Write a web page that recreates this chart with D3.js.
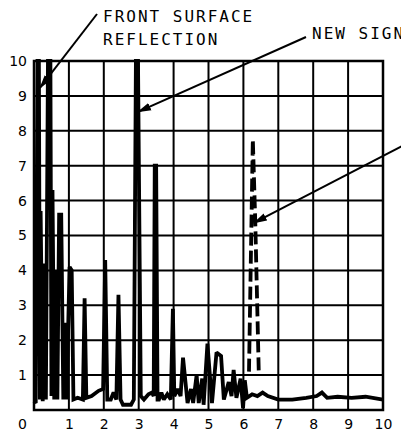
<!DOCTYPE html>
<html>
<head>
<meta charset="utf-8">
<script src="https://cdn.jsdelivr.net/npm/d3@7"></script>
<style>
  body { margin: 0; background: #fff; }
  svg { display: block; }
</style>
</head>
<body>
<svg width="401" height="436"></svg>
<script>
const xTicks = [0, 1, 2, 3, 4, 5, 6, 7, 8, 9, 10];
const yTicks = [1, 2, 3, 4, 5, 6, 7, 8, 9, 10];

// measured trace (solid) - distance vs amplitude
const traceX = [0.00, 0.05, 0.10, 0.14, 0.17, 0.19, 0.25, 0.30, 0.34, 0.40, 0.47, 0.50, 0.53, 0.58, 0.63, 0.67,
  0.72, 0.78, 0.84, 0.88, 0.93, 1.02, 1.08, 1.13, 1.25, 1.40, 1.45, 1.50, 1.65, 1.85, 1.98, 2.04, 2.10,
  2.20, 2.28, 2.36, 2.42, 2.48, 2.55, 2.78, 2.86, 2.92, 2.98, 3.06, 3.15, 3.28, 3.38, 3.43, 3.46, 3.50, 3.54,
  3.58, 3.65, 3.72, 3.82, 3.92, 3.98, 4.02, 4.12, 4.20, 4.27, 4.40, 4.50, 4.56, 4.66, 4.72, 4.82, 4.86,
  4.97, 5.10, 5.23, 5.36, 5.44, 5.58, 5.66, 5.72, 5.80, 5.92, 5.99, 6.04, 6.10, 6.25, 6.40, 6.55, 6.70,
  7.00, 7.40, 7.80, 8.10, 8.25, 8.40, 8.70, 9.10, 9.50, 10.0];
const traceY = [0.25, 0.20, 10.0, 10.0, 0.30, 5.70, 0.25, 4.20, 0.30, 10.0, 10.0, 0.40, 6.30, 0.30, 4.00, 0.30,
  5.60, 5.60, 0.30, 2.50, 0.30, 4.10, 4.00, 0.30, 0.35, 0.30, 3.20, 0.35, 0.40, 0.55, 0.60, 4.30, 0.30,
  0.30, 0.50, 0.30, 3.30, 0.30, 0.15, 0.15, 0.30, 10.0, 10.0, 0.40, 0.30, 0.45, 0.50, 0.40, 7.00, 7.00, 0.30,
  0.30, 0.50, 0.30, 0.45, 0.30, 2.90, 0.40, 0.60, 0.40, 1.50, 0.20, 0.60, 0.20, 1.00, 0.20, 0.90, 0.15,
  1.90, 0.20, 1.65, 1.55, 0.30, 0.80, 0.40, 1.15, 0.35, 0.90, 0.05, 0.85, 0.35, 0.45, 0.40, 0.50, 0.40,
  0.30, 0.30, 0.35, 0.40, 0.50, 0.35, 0.38, 0.35, 0.38, 0.30];

// new signal (dashed)
const newX = [6.16, 6.27, 6.34, 6.44];
const newY = [1.10, 7.75, 5.40, 1.10];

const notes = [
  { lines: ["FRONT SURFACE", "REFLECTION"], tx: 103, ty: 22, fx: 97, fy: 14, x: 0.17, y: 9.23 },
  { lines: ["NEW SIGNAL"], tx: 312, ty: 39, fx: 306, fy: 37, x: 2.98, y: 8.54 },
  { lines: [], tx: 0, ty: 0, fx: 410, fy: 142, x: 6.30, y: 5.36 }
];

const m = {top: 61, right: 18, bottom: 26, left: 34};
const svg = d3.select("svg");
const W = 401 - m.left - m.right, H = 436 - m.top - m.bottom;
const g = svg.append("g").attr("transform", `translate(${m.left},${m.top})`);

const x = d3.scaleLinear().domain([0, 10]).range([0, W]);
const y = d3.scaleLinear().domain([0, 10]).range([H, 0]);

// grid
g.selectAll("line.vg").data(xTicks).enter().append("line")
  .attr("x1", d => x(d)).attr("x2", d => x(d))
  .attr("y1", 0).attr("y2", H)
  .attr("stroke", "#000").attr("stroke-width", 2);
g.selectAll("line.hg").data(yTicks).enter().append("line")
  .attr("y1", d => y(d)).attr("y2", d => y(d))
  .attr("x1", 0).attr("x2", W)
  .attr("stroke", "#000").attr("stroke-width", 2);
g.append("rect").attr("width", W).attr("height", H)
  .attr("fill", "none").attr("stroke", "#000").attr("stroke-width", 2.5);

// axes labels
const ax = g.append("g").attr("transform", `translate(0,${H})`)
  .call(d3.axisBottom(x).tickValues(xTicks).tickSize(0).tickPadding(9));
ax.select(".domain").remove();
ax.selectAll("text").attr("font-family", "DejaVu Sans").attr("font-size", 14).attr("fill", "#000")
  .attr("dx", d => d === 0 ? -12 : 0);

const ay = g.append("g")
  .call(d3.axisLeft(y).tickValues(yTicks).tickSize(0).tickPadding(7));
ay.select(".domain").remove();
ay.selectAll("text").attr("font-family", "DejaVu Sans").attr("font-size", 14).attr("fill", "#000");

// traces
const line = d3.line().x(d => x(d[0])).y(d => y(d[1]));
const trace = traceX.map((v, i) => [v, traceY[i]]);
const fresh = newX.map((v, i) => [v, newY[i]]);

g.append("path").datum(trace).attr("d", line)
  .attr("fill", "none").attr("stroke", "#000").attr("stroke-width", 3.8)
  .attr("stroke-linejoin", "miter").attr("stroke-miterlimit", 2);
g.append("path").datum(fresh).attr("d", line)
  .attr("fill", "none").attr("stroke", "#000").attr("stroke-width", 3.8)
  .attr("stroke-dasharray", "13,5");

// annotations
svg.append("defs").append("marker")
  .attr("id", "ah").attr("markerUnits", "userSpaceOnUse")
  .attr("viewBox", "0 -5 14 10").attr("refX", 13).attr("refY", 0)
  .attr("markerWidth", 14).attr("markerHeight", 10).attr("orient", "auto")
  .append("path").attr("d", "M0,-4L14,0L0,4Z").attr("fill", "#000");

notes.forEach(n => {
  svg.append("line")
    .attr("x1", n.fx).attr("y1", n.fy)
    .attr("x2", m.left + x(n.x)).attr("y2", m.top + y(n.y))
    .attr("stroke", "#000").attr("stroke-width", 2)
    .attr("marker-end", "url(#ah)");
  n.lines.forEach((t, i) => {
    svg.append("text").attr("x", n.tx).attr("y", n.ty + i * 23)
      .attr("font-family", "DejaVu Sans Mono").attr("font-size", 16)
      .attr("letter-spacing", 2).attr("fill", "#000").text(t);
  });
});
</script>
</body>
</html>
